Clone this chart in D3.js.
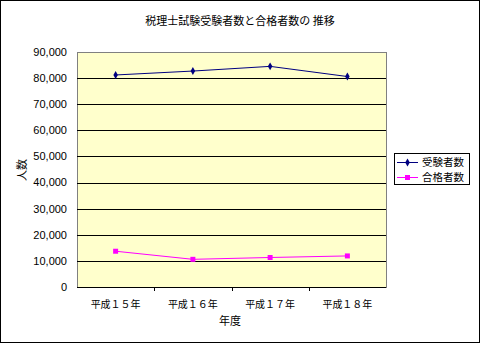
<!DOCTYPE html>
<html>
<head>
<meta charset="utf-8">
<script src="https://cdn.jsdelivr.net/npm/d3@7"></script>
<style>
  body { margin: 0; background: #fff; }
  text { font-family: "Noto Sans CJK JP", sans-serif; }
</style>
</head>
<body>
<div id="chart"></div>
<script>
const years = ['平成１５年', '平成１６年', '平成１７年', '平成１８年'];
const examinees = [81200, 82700, 84500, 80600];
const passers = [13700, 10600, 11300, 11900];
const yTicks = [0, 10000, 20000, 30000, 40000, 50000, 60000, 70000, 80000, 90000];

const W = 480, H = 343;
const plotL = 77, plotR = 386, plotT = 52, plotB = 287;

const svg = d3.select('#chart')
    .append('svg')
    .attr('width', W)
    .attr('height', H);

// outer frame
svg.append('rect')
    .attr('x', 0.5).attr('y', 0.5)
    .attr('width', W - 1).attr('height', H - 1)
    .attr('fill', '#fff')
    .attr('stroke', '#000');

const x = d3.scaleBand().domain(years).range([plotL, plotR]);
const y = d3.scaleLinear().domain([0, 90000]).range([plotB, plotT]);

// plot area
svg.append('rect')
    .attr('x', plotL + 0.5).attr('y', plotT + 0.5)
    .attr('width', plotR - plotL).attr('height', plotB - plotT)
    .attr('fill', '#FFFFCC')
    .attr('stroke', '#808080');

// gridlines
svg.append('g')
    .selectAll('line')
    .data(yTicks.filter(d => d > 0 && d < 90000))
    .enter()
    .append('line')
    .attr('x1', plotL).attr('x2', plotR)
    .attr('y1', d => Math.round(y(d)) + 0.5)
    .attr('y2', d => Math.round(y(d)) + 0.5)
    .attr('stroke', '#000');

// y axis labels
svg.append('g')
    .selectAll('text')
    .data(yTicks)
    .enter()
    .append('text')
    .attr('x', 67)
    .attr('y', d => y(d))
    .attr('dy', '0.35em')
    .attr('text-anchor', 'end')
    .style('font-family', '"Liberation Sans", Arial, sans-serif')
    .style('font-size', '11px')
    .text(d => d3.format(',')(d));

// x axis line + ticks
svg.append('line')
    .attr('x1', plotL).attr('x2', plotR)
    .attr('y1', plotB + 0.5).attr('y2', plotB + 0.5)
    .attr('stroke', '#000');

svg.append('g')
    .selectAll('line')
    .data(years.slice(1))
    .enter()
    .append('line')
    .attr('x1', d => Math.round(x(d)) + 0.5)
    .attr('x2', d => Math.round(x(d)) + 0.5)
    .attr('y1', plotB).attr('y2', plotB + 4)
    .attr('stroke', '#000');

svg.append('g')
    .selectAll('text')
    .data(years)
    .enter()
    .append('text')
    .attr('x', d => x(d) + x.bandwidth() / 2)
    .attr('y', 304)
    .attr('dy', '0.35em')
    .attr('text-anchor', 'middle')
    .style('font-size', '10px')
    .text(d => d);

// titles
svg.append('text')
    .attr('x', 240).attr('y', 21)
    .attr('dy', '0.35em')
    .attr('text-anchor', 'middle')
    .style('font-size', '11px')
    .text('税理士試験受験者数と合格者数の 推移');

svg.append('text')
    .attr('x', 230).attr('y', 321)
    .attr('dy', '0.35em')
    .attr('text-anchor', 'middle')
    .style('font-size', '11px')
    .text('年度');

svg.append('text')
    .attr('transform', 'translate(22,170) rotate(-90)')
    .attr('dy', '0.35em')
    .attr('text-anchor', 'middle')
    .style('font-size', '11px')
    .text('人数');

const line = d3.line()
    .x((d, i) => x(years[i]) + x.bandwidth() / 2)
    .y(d => y(d));

const diamond = d3.symbol().type(d3.symbolDiamond).size(18);
const square = d3.symbol().type(d3.symbolSquare).size(25);

const series = [
    {name: '受験者数', values: examinees, color: '#000080', symbol: diamond},
    {name: '合格者数', values: passers, color: '#FF00FF', symbol: square}
];

series.forEach(s => {
    svg.append('path')
        .attr('d', line(s.values))
        .attr('fill', 'none')
        .attr('stroke', s.color)
        .attr('stroke-width', 1);

    svg.append('g')
        .selectAll('path')
        .data(s.values)
        .enter()
        .append('path')
        .attr('transform', (d, i) => `translate(${x(years[i]) + x.bandwidth() / 2},${y(d)})`)
        .attr('d', s.symbol)
        .attr('fill', s.color);
});

// legend
const lg = svg.append('g');
lg.append('rect')
    .attr('x', 394.5).attr('y', 153.5)
    .attr('width', 75).attr('height', 31)
    .attr('fill', '#fff')
    .attr('stroke', '#000');

series.forEach((s, i) => {
    const ly = 162.5 + i * 15;
    lg.append('line')
        .attr('x1', 397).attr('x2', 418)
        .attr('y1', ly).attr('y2', ly)
        .attr('stroke', s.color);
    lg.append('path')
        .attr('transform', `translate(407.5,${ly})`)
        .attr('d', s.symbol)
        .attr('fill', s.color);
    lg.append('text')
        .attr('x', 422).attr('y', ly)
        .attr('dy', '0.35em')
        .style('font-size', '10.5px')
        .text(s.name);
});
</script>
</body>
</html>
